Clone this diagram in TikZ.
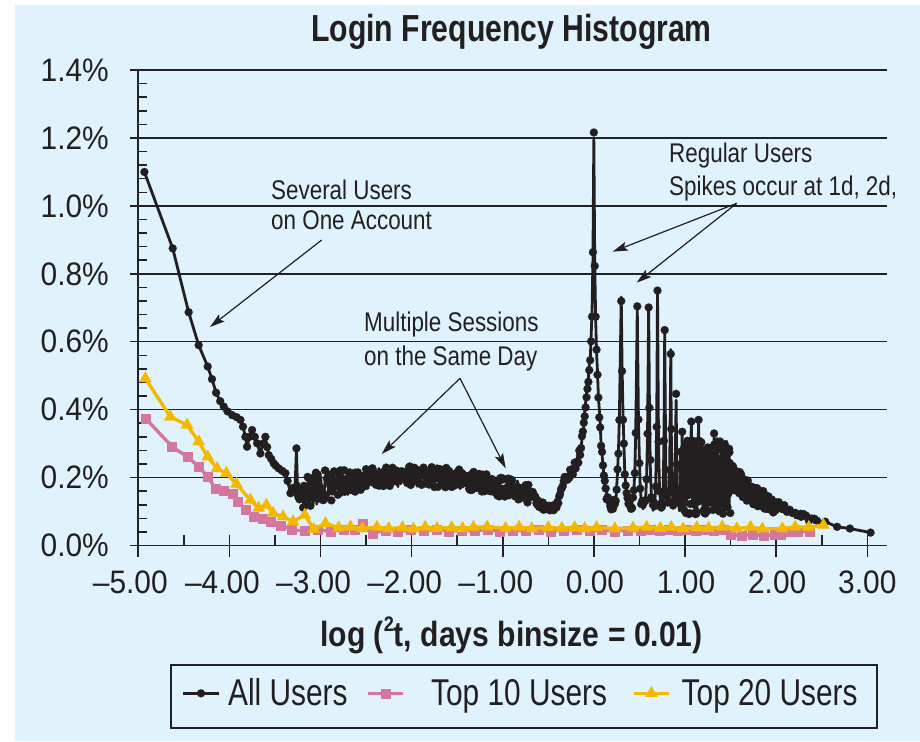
\documentclass[tikz,border=0pt]{standalone}
\usepackage{fontspec}
\setmainfont{Liberation Sans}
\newfontfamily\fTitle[FakeStretch=0.80]{Liberation Sans}
\newfontfamily\fTick[FakeStretch=0.92]{Liberation Sans}
\newfontfamily\fNote[FakeStretch=0.83]{Liberation Sans}
\newfontfamily\fAxis[FakeStretch=0.86]{Liberation Sans}
\newfontfamily\fLeg[FakeStretch=0.80]{Liberation Sans}
\usetikzlibrary{arrows.meta,plotmarks}
\definecolor{bgblue}{HTML}{E0F2FC}
\definecolor{ink}{HTML}{231F20}
\definecolor{gridc}{HTML}{222222}
\definecolor{pinkc}{HTML}{D4779F}
\definecolor{yellowc}{HTML}{F5B800}
\begin{document}
\begin{tikzpicture}[x=1pt,y=-1pt,
  gridline/.style={draw=gridc,line width=1.5pt},
  axisline/.style={draw=gridc,line width=1.7pt},
  tickmark/.style={draw=gridc,line width=1.5pt},
  ticklabel/.style={text=ink,inner sep=0pt,font=\fTick\fontsize{32.5}{34}\selectfont},
  notetext/.style={text=ink,inner sep=0pt,font=\fNote\fontsize{27}{30}\selectfont},
  legtext/.style={text=ink,inner sep=0pt,font=\fLeg\fontsize{37.3}{40}\selectfont},
  pointer/.style={draw=ink,line width=1.2pt,-{Stealth[length=15pt,width=9pt,inset=3pt]}},
  allusers/.style={color=ink,line width=2.8pt,line join=round,mark=*,mark size=4pt,mark options={solid,line width=0.2pt}},
  top10/.style={color=pinkc,line width=3.4pt,line join=round,mark=square*,mark size=4.5pt,mark options={solid,line width=0.2pt}},
  top20/.style={color=yellowc,line width=3.4pt,line join=round,mark=triangle*,mark size=7pt,mark options={solid,line width=0.2pt}},
  declare function={
    gb(\u,\c,\s)=exp(0-(min(abs(\u-\c),4*\s)/\s)*(min(abs(\u-\c),4*\s)/\s));
    lp(\u,\c,\w)=exp(0-min(abs(\u-\c),8*\w)/\w);
  }]
\useasboundingbox (0,0) rectangle (920,741);
\fill[bgblue] (15,5) rectangle (920,741);

% title
\node[anchor=base,text=ink,inner sep=0pt,font=\fTitle\bfseries\fontsize{37.7}{40}\selectfont] (title) at (511.5,41.7) {Login Frequency Histogram};

% grid lines
\foreach \v in {1,...,7}
  \draw[gridline] (130,{545.5-67.92*\v}) -- (887,{545.5-67.92*\v});
% axes
\draw[axisline] (130,545.5) -- (887,545.5);
\draw[axisline] (138.3,70.1) -- (138.3,557);
% minor y ticks
\foreach \M in {0,...,6}
  \foreach \m in {1,...,4}
    \draw[tickmark] (138.3,{545.5-67.92*\M-13.584*\m}) -- (147.3,{545.5-67.92*\M-13.584*\m});
% x ticks
\foreach \k in {1,...,8}
  \draw[tickmark] ({138.3+91.125*\k},535) -- ({138.3+91.125*\k},557);
\foreach \k in {0,...,7}
  \draw[tickmark] ({138.3+91.125*(\k+0.5)},535) -- ({138.3+91.125*(\k+0.5)},545.5);

% y labels
\foreach \v/\t in {0/0.0\%,1/0.2\%,2/0.4\%,3/0.6\%,4/0.8\%,5/1.0\%,6/1.2\%,7/1.4\%}
  \node[ticklabel,anchor=east] (ylab\v) at (109,{545.5-67.92*\v}) {\t};
% x labels
\foreach \k/\t/\o in {0/–5.00/-8,1/–4.00/-7,2/–3.00/-7,3/–2.00/-7,4/–1.00/-7,5/0.00/1,6/1.00/1,7/2.00/1,8/3.00/0}
  \node[ticklabel,anchor=base] (xlab\k) at ({138.3+91.125*\k+\o},593.5) {\t};

% axis title
\node[anchor=base,text=ink,inner sep=0pt,font=\fAxis\bfseries\fontsize{35}{38}\selectfont] (xtitle) at (511.5,646.5) {log (\raisebox{0.42em}{\fontsize{21}{21}\selectfont 2}t, days binsize = 0.01)};

% annotations
\node[notetext,anchor=base west] (n1a) at (271,199.3) {Several Users};
\node[notetext,anchor=base west] (n1b) at (271,229.5) {on One Account};
\node[notetext,anchor=base west] (n2a) at (364,331.7) {Multiple Sessions};
\node[notetext,anchor=base west] (n2b) at (364,365) {on the Same Day};
\node[notetext,anchor=base west] (n3a) at (669,162) {Regular Users};
\node[notetext,anchor=base west] (n3b) at (669,195) {Spikes occur at 1d, 2d,};

% data
\begin{scope}[shift={(593.8,545.5)},x=91.125pt,y=339.6pt]
\pgfmathsetseed{4242}
% all users
\draw[allusers] plot coordinates {(-4.932,1.100) (-4.621,0.875) (-4.446,0.687) (-4.336,0.590) (-4.237,0.527) (-4.19,0.49) (-4.145,0.450) (-4.10,0.425) (-4.061,0.409) (-4.02,0.395) (-3.969,0.384) (-3.92,0.378) (-3.878,0.370) (-3.85,0.35) (-3.823,0.320) (-3.805,0.291) (-3.78,0.32) (-3.750,0.340) (-3.72,0.32) (-3.695,0.301) (-3.659,0.271) (-3.63,0.30) (-3.604,0.320) (-3.585,0.29) (-3.567,0.266) (-3.54,0.255) (-3.513,0.242) (-3.49,0.235) (-3.458,0.227) (-3.42,0.22) (-3.384,0.213) (-3.36,0.19) (-3.329,0.154) (-3.30,0.17) (-3.28,0.16) (-3.263,0.286) (-3.25,0.15)}
  -- plot[samples at={-3.24,-3.23,...,-0.70}] (\x,{0.203-0.045*((\x+2.0)/1.2)*((\x+2.0)/1.2)+(0.03+0.022*gb(\x,-3.05,0.35))*rand})
  -- plot[samples at={-0.69,-0.68,...,-0.31}] (\x,{0.108+(((\x<-0.48) ? 1.1 : 3.2))*(\x+0.48)*(\x+0.48)+0.012*rand})
  -- plot[samples at={-0.30,-0.29,...,0.29,0.301,0.31,0.32,...,0.47,0.477,0.49,0.50,...,0.59,0.602,0.61,0.62,...,0.69,0.699,0.71,0.72,...,0.77,0.778,0.79,0.80,...,0.84,0.845,0.85,0.86,...,0.89,0.903,0.91,0.92,...,0.95}]
     (\x,{0.115+0.09*gb(\x,-0.25,0.12)+(((\x<0) ? 0.45*gb(\x,0,0.13) : 0.45*gb(\x,0,0.085)))+0.65*lp(\x,0,0.012)
        +0.24*gb(\x,0.30103,0.04)+0.37*lp(\x,0.30103,0.012)
        +0.24*gb(\x,0.47712,0.027)+0.34*lp(\x,0.47712,0.008)
        +0.24*gb(\x,0.60206,0.02)+0.36*lp(\x,0.60206,0.006)
        +0.24*gb(\x,0.69897,0.016)+0.39*lp(\x,0.69897,0.005)
        +0.22*gb(\x,0.77815,0.013)+0.30*lp(\x,0.77815,0.004)
        +0.2*gb(\x,0.84510,0.011)+0.26*lp(\x,0.84510,0.0035)
        +0.2*gb(\x,0.90309,0.01)+0.125*lp(\x,0.90309,0.003)
        +0.015*rand})
  -- plot[samples at={0.953,0.956,...,1.50}] (\x,{0.2+0.11*rand})
  -- plot[samples at={1.505,1.51,...,2.00}] (\x,{0.2*exp(0-1.08*(\x-1.5))+0.042*exp(0-1.2*(\x-1.5))*rand})
  -- plot[samples at={2.03,2.06,...,2.50}] (\x,{0.2*exp(0-1.08*(\x-1.5))+0.028*exp(0-1.2*(\x-1.5))*rand})
  -- plot coordinates {(2.54,0.07) (2.67,0.055) (2.81,0.05) (3.037,0.038)};
% extra spikes in the dense region
\draw[allusers] plot coordinates {(0.96,0.16) (0.97,0.335) (0.98,0.12)};
\draw[allusers] plot coordinates {(1.06,0.2) (1.07,0.365) (1.08,0.15)};
\draw[allusers] plot coordinates {(1.14,0.2) (1.15,0.37) (1.16,0.14)};
\draw[allusers] plot coordinates {(1.31,0.2) (1.32,0.33) (1.33,0.15)};
\draw[allusers] plot coordinates {(1.45,0.18) (1.46,0.273) (1.47,0.15)};
% top 10
\draw[top10] plot coordinates {(-4.921,0.375) (-4.628,0.291) (-4.463,0.262) (-4.336,0.232) (-4.237,0.203) (-4.153,0.168) (-4.061,0.163) (-3.969,0.154) (-3.908,0.129) (-3.823,0.105) (-3.732,0.085) (-3.640,0.080) (-3.549,0.070) (-3.439,0.060) (-3.311,0.046) (-3.17,0.043) (-3.03,0.047) (-2.89,0.042) (-2.75,0.046) (-2.62,0.048) (-2.54,0.065) (-2.43,0.036) (-2.29,0.045) (-2.15,0.041) (-2.01,0.046) (-1.87,0.043) (-1.73,0.047) (-1.59,0.042) (-1.45,0.045) (-1.31,0.043) (-1.17,0.046) (-1.03,0.042) (-0.89,0.045) (-0.75,0.043) (-0.61,0.046) (-0.47,0.042) (-0.33,0.045) (-0.19,0.047) (-0.05,0.043) (0.09,0.046) (0.23,0.042) (0.37,0.045) (0.51,0.043) (0.62,0.047) (0.72,0.044) (0.82,0.047) (0.92,0.043) (1.02,0.046) (1.12,0.043) (1.22,0.046) (1.32,0.044) (1.42,0.046) (1.50,0.031) (1.62,0.030) (1.74,0.032) (1.86,0.030) (1.98,0.031) (2.05,0.032) (2.13,0.042) (2.24,0.040) (2.37,0.041)};
% top 20
\draw[top20] plot coordinates {(-4.921,0.492) (-4.647,0.379) (-4.463,0.355) (-4.336,0.306) (-4.237,0.261) (-4.134,0.227) (-4.032,0.213) (-3.922,0.181) (-3.768,0.134) (-3.677,0.110) (-3.593,0.119) (-3.519,0.095) (-3.410,0.085) (-3.300,0.070) (-3.172,0.090) (-3.073,0.048) (-2.945,0.065) (-2.80,0.052) (-2.67,0.055) (-2.54,0.050) (-2.38,0.054) (-2.25,0.050) (-2.10,0.053) (-1.98,0.049) (-1.85,0.054) (-1.72,0.051) (-1.56,0.053) (-1.44,0.050) (-1.32,0.054) (-1.17,0.055) (-0.97,0.051) (-0.82,0.054) (-0.68,0.050) (-0.50,0.053) (-0.35,0.051) (-0.21,0.053) (-0.10,0.050) (0.03,0.053) (0.23,0.050) (0.43,0.052) (0.58,0.054) (0.73,0.051) (0.85,0.054) (0.98,0.050) (1.13,0.053) (1.26,0.051) (1.41,0.055) (1.57,0.050) (1.72,0.054) (1.85,0.049) (2.07,0.050) (2.21,0.055) (2.36,0.054) (2.52,0.060)};
\end{scope}

% annotation arrows
\coordinate (a1s) at (321.7,240);  \coordinate (a1e) at (210,327);
\coordinate (a2s) at (460,378.3);  \coordinate (a2e) at (381.7,454);
\coordinate (a3e) at (505.7,468.3);
\coordinate (a4s) at (736.7,203.3); \coordinate (a4e) at (612.7,251.7);
\coordinate (a5e) at (636.7,282.7);
\draw[pointer] (a1s) -- (a1e);
\draw[pointer] (a2s) -- (a2e);
\draw[pointer] (a2s) -- (a3e);
\draw[pointer] (a4s) -- (a4e);
\draw[pointer] (a4s) -- (a5e);

% legend
\node[draw=gridc,line width=1.6pt,minimum width=706pt,minimum height=63pt,anchor=north west,inner sep=0pt] (legend) at (170,664) {};
\draw[allusers,mark indices={2},line width=3pt] plot coordinates {(183,693.3) (201,693.3) (219,693.3)};
\draw[top10,mark indices={2}] plot coordinates {(368,693.3) (385.5,693.3) (403,693.3)};
\draw[top20,mark indices={2}] plot coordinates {(634.4,693.3) (651.4,693.3) (668.8,693.3)};
\node[legtext,anchor=base west] (l1) at (228,705) {All Users};
\node[legtext,anchor=base west] (l2) at (431,705) {Top 10 Users};
\node[legtext,anchor=base west] (l3) at (681.5,705) {Top 20 Users};
\end{tikzpicture}
\end{document}
